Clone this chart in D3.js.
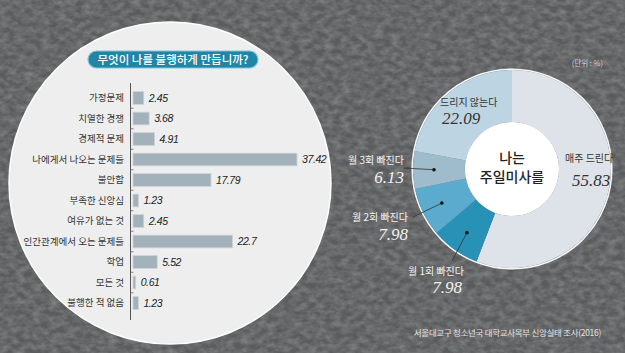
<!DOCTYPE html>
<html>
<head>
<meta charset="utf-8">
<script src="https://cdn.jsdelivr.net/npm/d3@7"></script>
<style>
  body { margin: 0; background: #5e6061; }
  svg { display: block; }
</style>
</head>
<body>
<svg></svg>
<script>
// left chart: what makes me unhappy
let causes = ["가정문제", "치열한 경쟁", "경제적 문제", "나에게서 나오는 문제들", "불안함", "부족한 신앙심",
  "여유가 없는 것", "인간관계에서 오는 문제들", "학업", "모든 것", "불행한 적 없음"]
let causeValues = [2.45, 3.68, 4.91, 37.42, 17.79, 1.23, 2.45, 22.7, 5.52, 0.61, 1.23]
let causeLabels = ["2.45", "3.68", "4.91", "37.42", "17.79", "1.23", "2.45", "22.7", "5.52", "0.61", "1.23"]

// right chart: Sunday mass attendance
let massCats = ["매주 드린다", "월 1회 빠진다", "월 2회 빠진다", "월 3회 빠진다", "드리지 않는다"]
let massValues = [55.83, 7.98, 7.98, 6.13, 22.09]
let massColors = ["#dde3e9", "#2891b6", "#5aabcd", "#9ebccb", "#bdd4e2"]

let width = 625
let height = 353
let kr = "'Noto Sans CJK KR', 'Noto Sans', sans-serif"

let svg = d3.select("svg")
  .attr("width", width)
  .attr("height", height)

// textured background
let defs = svg.append("defs")
let f = defs.append("filter").attr("id", "grain")
f.append("feTurbulence").attr("type", "fractalNoise").attr("baseFrequency", "0.12 0.18").attr("numOctaves", 3).attr("seed", 7)
f.append("feColorMatrix").attr("type", "matrix")
  .attr("values", "0 0 0 0 0.45  0 0 0 0 0.46  0 0 0 0 0.465  0.7 0 0 0 -0.2")

svg.append("rect").attr("width", width).attr("height", height).attr("fill", "#595b5c")
svg.append("rect").attr("width", width).attr("height", height).attr("filter", "url(#grain)")

// ---------- left: bar chart in a circle ----------
svg.append("circle")
  .attr("cx", 170).attr("cy", 183).attr("r", 161)
  .attr("fill", "#eeeeee")
  .attr("stroke", "#ffffff").attr("stroke-width", 1.5)

svg.append("rect")
  .attr("x", 88).attr("y", 51).attr("width", 170).attr("height", 17).attr("rx", 8.5)
  .attr("fill", "#1f86a6").attr("stroke", "#86c3d9").attr("stroke-width", 1.2)
svg.append("text")
  .attr("x", 173).attr("y", 64)
  .attr("text-anchor", "middle")
  .style("font-family", kr).style("font-size", "11.5px").style("font-weight", 500)
  .attr("fill", "#ffffff")
  .text("무엇이 나를 불행하게 만듭니까?")

let yScale = d3.scaleBand()
  .domain(causes)
  .range([87.75, 313.25])
  .paddingInner(0.38)
  .paddingOuter(0.19)

let xScale = d3.scaleLinear()
  .domain([0, 37.42])
  .range([133, 297])

let axisX = 130.5
svg.append("line")
  .attr("x1", axisX).attr("x2", axisX)
  .attr("y1", 83).attr("y2", 320)
  .attr("stroke", "#555").attr("stroke-width", 1)

// little ticks between categories
svg.selectAll(".tick-b")
  .data(causes.slice(1))
  .enter()
  .append("line")
  .attr("x1", axisX).attr("x2", axisX + 3)
  .attr("y1", d => yScale(d) - yScale.step() * yScale.paddingInner() / 2)
  .attr("y2", d => yScale(d) - yScale.step() * yScale.paddingInner() / 2)
  .attr("stroke", "#666").attr("stroke-width", 0.8)

let yAxis = d3.axisLeft(yScale).tickSize(0).tickPadding(0)
let yG = svg.append("g")
  .attr("transform", "translate(124,0)")
  .call(yAxis)
yG.select(".domain").remove()
yG.selectAll("text")
  .style("font-family", kr).style("font-size", "9.5px")
  .attr("fill", "#333")

svg.selectAll(".bar")
  .data(causeValues)
  .enter()
  .append("rect")
  .attr("class", "bar")
  .attr("x", xScale(0))
  .attr("y", (d, i) => yScale(causes[i]))
  .attr("width", d => xScale(d) - xScale(0))
  .attr("height", yScale.bandwidth())
  .attr("fill", "#a3b1bb")
  .attr("stroke", "#cbd3d9").attr("stroke-width", 0.8)

svg.selectAll(".val")
  .data(causeValues)
  .enter()
  .append("text")
  .attr("class", "val")
  .attr("x", d => xScale(d) + 5)
  .attr("y", (d, i) => yScale(causes[i]) + yScale.bandwidth() / 2 + 3.5)
  .style("font-family", "'Liberation Sans Narrow', 'Liberation Sans', sans-serif")
  .style("font-style", "italic").style("font-size", "10.5px").style("letter-spacing", "-0.4px")
  .attr("fill", "#222")
  .text((d, i) => causeLabels[i])

// ---------- right: donut ----------
let cx = 512
let cy = 169
let rOuter = 99
let rInner = 47

let pie = d3.pie().sort(null).value(d => d)
let arcs = pie(massValues)
let arc = d3.arc().innerRadius(rInner).outerRadius(rOuter)

let donut = svg.append("g").attr("transform", `translate(${cx},${cy})`)
donut.append("circle").attr("r", rOuter + 0.8).attr("fill", "none")
  .attr("stroke", "#f4f6f8").attr("stroke-width", 1.6)
donut.selectAll("path")
  .data(arcs)
  .enter()
  .append("path")
  .attr("d", arc)
  .attr("fill", (d, i) => massColors[i])
donut.append("circle").attr("r", rInner).attr("fill", "#ffffff")

donut.append("text").attr("y", -6).attr("text-anchor", "middle")
  .style("font-family", kr).style("font-size", "14px").style("font-weight", 500)
  .attr("fill", "#222").text("나는")
donut.append("text").attr("y", 13).attr("text-anchor", "middle")
  .style("font-family", kr).style("font-size", "14px").style("font-weight", 500)
  .attr("fill", "#222").text("주일미사를")

// label positions picked by hand from the reference
let labelPos = [
  { x: 565, y: 162, vx: 572, vy: 186, anchor: "start", color: "#333" },
  { x: 436, y: 275, vx: 447, vy: 293, anchor: "middle", color: "#f2f2f2", line: [452, 261] },
  { x: 408, y: 221, vx: 408, vy: 240, anchor: "end", color: "#f2f2f2", line: [413, 217] },
  { x: 404, y: 164, vx: 404, vy: 183, anchor: "end", color: "#f2f2f2", line: [404, 168] },
  { x: 440, y: 106, vx: 442, vy: 124, anchor: "start", color: "#333" }
]

// leader lines from a dot inside the slice
arcs.forEach((a, i) => {
  let p = labelPos[i]
  if (!p.line) return
  let mid = (a.startAngle + a.endAngle) / 2
  let rr = rOuter - 21
  let dx = cx + Math.sin(mid) * rr
  let dy = cy - Math.cos(mid) * rr
  svg.append("line")
    .attr("x1", p.line[0]).attr("y1", p.line[1])
    .attr("x2", dx).attr("y2", dy)
    .attr("stroke", "#333").attr("stroke-width", 0.8)
  svg.append("circle").attr("cx", dx).attr("cy", dy).attr("r", 1.8).attr("fill", "#111")
})

massCats.forEach((c, i) => {
  let p = labelPos[i]
  svg.append("text")
    .attr("x", p.x).attr("y", p.y)
    .attr("text-anchor", p.anchor)
    .style("font-family", kr).style("font-size", "10px")
    .attr("fill", p.color)
    .text(c)
  svg.append("text")
    .attr("x", p.vx).attr("y", p.vy)
    .attr("text-anchor", p.anchor)
    .style("font-family", "'Liberation Serif', 'DejaVu Serif', serif")
    .style("font-style", "italic").style("font-size", "17px")
    .attr("fill", p.color)
    .text(massValues[i].toFixed(2))
})

svg.append("text")
  .attr("x", 603).attr("y", 66).attr("text-anchor", "end")
  .style("font-family", kr).style("font-size", "7.5px")
  .attr("fill", "#d0d0d0")
  .text("(단위 : %)")

svg.append("text")
  .attr("x", 601).attr("y", 336).attr("text-anchor", "end")
  .style("font-family", kr).style("font-size", "8.5px").style("letter-spacing", "-0.3px")
  .attr("fill", "#e2e2e2")
  .text("서울대교구 청소년국 대학교사목부 신앙실태 조사(2016)")
</script>
</body>
</html>
